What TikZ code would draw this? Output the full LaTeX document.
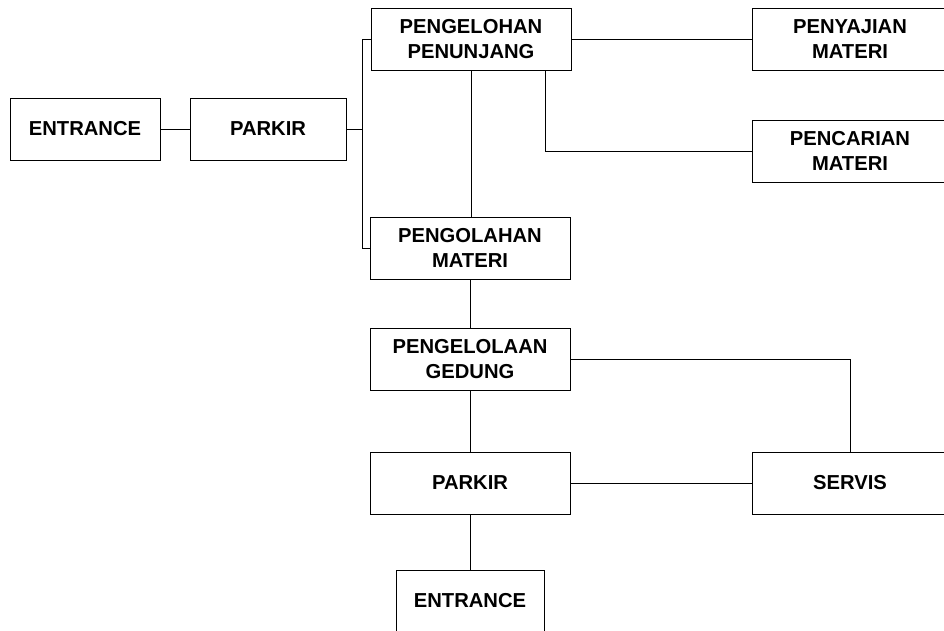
\documentclass[tikz,border=0pt]{standalone}
\usepackage{fontspec}
\setmainfont{Liberation Sans}

\tikzset{
    ruang/.style={draw, line width=0.5pt, align=center, inner sep=0pt,
        minimum width=4cm, minimum height=1.24cm,
        font=\bfseries\fontsize{11.5}{14}\selectfont},
    garis/.style={line width=0.5pt}
}

\begin{document}
\begin{tikzpicture}[x=0.02cm,y=-0.02cm]
        \useasboundingbox (0,0) rectangle (944,631);

        % kolom kiri
        \node[ruang, minimum width=3cm] (entrance) at (85,129) {ENTRANCE};
        \node[ruang, minimum width=3.12cm] (parkir) at (268,129) {PARKIR};

        % kolom tengah
        \node[ruang] (penunjang) at (471,39) {PENGELOHAN\\PENUNJANG};
        \node[ruang] (olah) at (470,248) {PENGOLAHAN\\MATERI};
        \node[ruang] (gedung) at (470,359) {PENGELOLAAN\\GEDUNG};
        \node[ruang] (parkirb) at (470,483) {PARKIR};
        \node[ruang, minimum width=2.96cm] (entranceb) at (470,601) {ENTRANCE};

        % kolom kanan
        \node[ruang, minimum width=3.9cm] (sajian) at (850,39) {PENYAJIAN\\MATERI};
        \node[ruang, minimum width=3.9cm] (cari) at (850,151) {PENCARIAN\\MATERI};
        \node[ruang, minimum width=3.9cm] (servis) at (850,483) {SERVIS};

        \coordinate (cabang) at (362,129);

        \draw[garis] (entrance) -- (parkir);
        \draw[garis] (parkir.east) -- (cabang);
        \draw[garis] (cabang) |- (penunjang.west);
        \draw[garis] (cabang) |- (olah.west);
        \draw[garis] (penunjang) -- (sajian);
        \draw[garis] ([xshift=1.48cm]penunjang.south) |- (cari.west);
        \draw[garis] (penunjang.south) -- (penunjang.south |- olah.north);
        \draw[garis] (olah) -- (gedung);
        \draw[garis] (gedung.east) -| (servis.north);
        \draw[garis] (gedung) -- (parkirb);
        \draw[garis] (parkirb) -- (servis);
        \draw[garis] (parkirb) -- (entranceb);
    \end{tikzpicture}
\end{document}
